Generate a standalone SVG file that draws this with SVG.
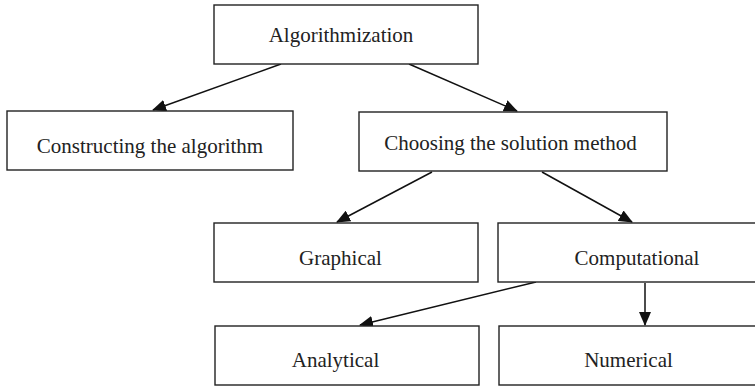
<svg xmlns="http://www.w3.org/2000/svg" width="755" height="386" viewBox="0 0 755 386">
  <style>
    .box { fill: #fff; stroke: #222; stroke-width: 1.4; }
    .lbl { font-family: "Liberation Serif", "Times New Roman", serif; font-size: 21px; fill: #222; text-anchor: middle; }
    .edge { fill: none; stroke: #111; stroke-width: 1.5; marker-end: url(#head); }
  </style>
  <defs>
    <marker id="head" markerUnits="userSpaceOnUse" markerWidth="14" markerHeight="12" viewBox="0 0 14 12" refX="13" refY="6" orient="auto">
      <path d="M0,0 L14,6 L0,12 Z" fill="#111"/>
    </marker>
  </defs>

  <rect width="755" height="386" fill="#fff"/>

  <g id="connectors">
    <line class="edge" x1="281" y1="64" x2="153" y2="110"/>
    <line class="edge" x1="409" y1="64" x2="517" y2="111"/>
    <line class="edge" x1="432" y1="172" x2="337" y2="222"/>
    <line class="edge" x1="542" y1="172" x2="632" y2="222"/>
    <line class="edge" x1="536" y1="282" x2="360" y2="325"/>
    <line class="edge" x1="645" y1="283" x2="645" y2="325"/>
  </g>

  <g id="algorithmization">
    <rect class="box" x="214" y="5" width="264" height="59"/>
    <text class="lbl" x="341" y="41.5">Algorithmization</text>
  </g>
  <g id="constructing">
    <rect class="box" x="7" y="111" width="286" height="59"/>
    <text class="lbl" x="150" y="153">Constructing the algorithm</text>
  </g>
  <g id="choosing">
    <rect class="box" x="359" y="112" width="308" height="59"/>
    <text class="lbl" x="510.5" y="150">Choosing the solution method</text>
  </g>
  <g id="graphical">
    <rect class="box" x="214" y="223" width="264" height="59"/>
    <text class="lbl" x="340.5" y="264.5">Graphical</text>
  </g>
  <g id="computational">
    <rect class="box" x="498" y="223" width="262" height="59"/>
    <text class="lbl" x="637" y="264.5">Computational</text>
  </g>
  <g id="analytical">
    <rect class="box" x="215" y="326" width="264" height="59"/>
    <text class="lbl" x="335.5" y="367">Analytical</text>
  </g>
  <g id="numerical">
    <rect class="box" x="499" y="326" width="261" height="59"/>
    <text class="lbl" x="628.5" y="367">Numerical</text>
  </g>
</svg>
